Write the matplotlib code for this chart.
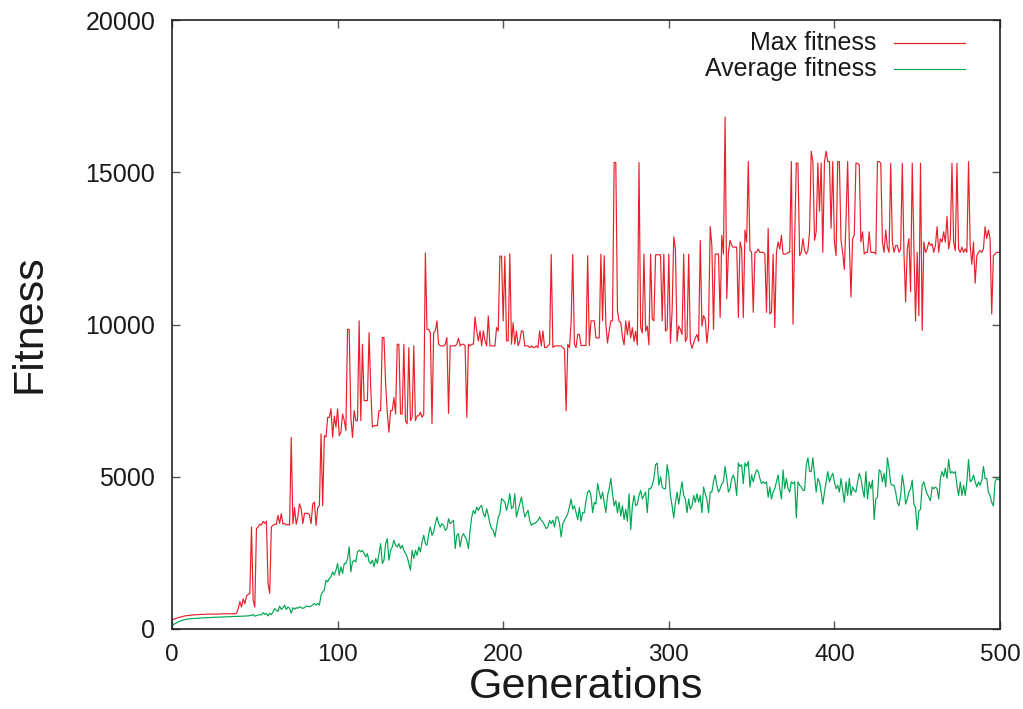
import numpy as np
import matplotlib
matplotlib.use("Agg")
import matplotlib.pyplot as plt

plt.rcParams["font.family"] = ["Liberation Sans", "DejaVu Sans"]

# ---- fitness per generation (generation 0 .. 500) ----
max_fit_000_076 = [
    300, 320, 340, 360, 380, 390, 400, 420, 430, 440,
    440, 450, 460, 460, 470, 470, 470, 480, 480, 480,
    480, 490, 490, 490, 490, 490, 490, 490, 490, 490,
    500, 500, 500, 500, 500, 500, 500, 500, 500, 520,
    680, 900, 720, 990, 830, 1090, 1140, 1160, 3350, 950,
    720, 3300, 3350, 3440, 3410, 3530, 3470, 3540, 1500, 1170,
    3350, 3410, 3440, 3440, 3730, 3470, 3790, 3440, 3470, 3410,
    3440, 3410, 6290, 3450, 3990, 3440, 3680,
]
max_fit_077_158 = [
    4110, 3950, 3460, 3800, 3800, 3800, 3750, 3460, 4110, 4170,
    3400, 3980, 4050, 6410, 4050, 6350, 6300, 6950, 6950, 7230,
    6300, 6990, 6630, 7230, 6350, 6460, 7060, 6850, 6520, 9840,
    9840, 6950, 6290, 7170, 6840, 6840, 10120, 6840, 9350, 7500,
    7500, 7500, 9730, 7930, 6630, 6680, 6680, 6680, 7170, 7170,
    9570, 9570, 8050, 7120, 6460, 7170, 7170, 7600, 7060, 9350,
    9350, 7060, 7060, 9350, 6840, 6740, 9240, 6840, 6950, 9300,
    6840, 7000, 7000, 7120, 6950, 7060, 12350, 9840, 9840, 9730,
    6740, 9730,
]
max_fit_159_245 = [
    9789, 10117, 9352, 9298, 9298, 9298, 9352, 9571, 7083, 9298,
    9298, 9298, 9298, 9352, 9549, 9298, 9352, 9352, 9298, 6952,
    9352, 9298, 9352, 9352, 10247, 9789, 9462, 9789, 9298, 9789,
    9462, 9298, 10280, 9298, 9298, 9298, 9298, 9898, 9789, 12245,
    12245, 10117, 12245, 9462, 9462, 12321, 9352, 10062, 9352, 9789,
    9298, 9462, 9789, 9789, 9298, 9298, 9298, 9243, 9298, 9243,
    9243, 9298, 9243, 9789, 9298, 9789, 9243, 9243, 9298, 9352,
    12300, 9243, 9298, 9298, 9298, 9298, 9298, 9243, 9189, 7170,
    9352, 9243, 10062, 12300, 9352, 9243, 9680,
]
max_fit_246_324 = [
    9670, 9310, 9310, 9310, 9310, 12260, 9310, 10120, 10120, 10120,
    9560, 9560, 9560, 12310, 10120, 12260, 10010, 9390, 9800, 10120,
    10120, 15320, 15320, 10460, 10100, 10064, 9600, 9330, 10120, 9670,
    10120, 9560, 9895, 9445, 9780, 9330, 15320, 9900, 9720, 12310,
    9780, 9950, 9330, 12310, 10176, 10120, 12290, 12290, 12290, 12290,
    10120, 12310, 9780, 9840, 12310, 9390, 10460, 12880, 12480, 9445,
    9950, 9840, 9670, 12310, 9445, 9560, 12310, 9445, 9220, 9390,
    9560, 9670, 9445, 12765, 9950, 10290, 10176, 9390, 9950,
]
max_fit_325_403 = [
    13214, 12595, 9840, 12314, 12314, 12314, 10230, 12930, 12314, 16810,
    10850, 12370, 12765, 12595, 12540, 12540, 12540, 10230, 12710, 12480,
    10230, 13100, 12710, 15350, 12430, 12370, 10400, 12370, 12370, 12480,
    12370, 12370, 12370, 12314, 10400, 13160, 10345, 10400, 12314, 9895,
    12370, 12710, 12480, 12930, 12314, 12314, 12314, 12370, 12370, 15350,
    10010, 12820, 15300, 15300, 12260, 12370, 12820, 12430, 12314, 12430,
    13045, 15690, 15350, 12765, 13045, 15300, 13720, 15300, 12370, 15350,
    15690, 15350, 15350, 13160, 15350, 12710, 12260, 15350, 15350,
]
max_fit_404_500 = [
    12764, 12370, 11808, 13383, 15351, 12708, 10908, 12820, 12933, 15295,
    15295, 15239, 12708, 13045, 12314, 12370, 12370, 13045, 12370, 12370,
    12370, 12314, 15351, 15351, 15295, 12708, 12370, 13101, 12539, 12370,
    15295, 12708, 12370, 12595, 12595, 12370, 12483, 15295, 12370, 10739,
    12483, 12820, 11076, 15295, 12595, 10120, 12370, 10289, 15295, 9805,
    12708, 12370, 12483, 12708, 12595, 12651, 12370, 12595, 13214, 12370,
    12820, 12708, 13045, 12708, 13551, 12483, 12820, 15295, 12708, 12426,
    15295, 12483, 12370, 12539, 12370, 12483, 12370, 15351, 12595, 11976,
    12708, 11358, 12258, 12370, 12426, 12370, 12483, 13214, 12820, 13101,
    12820, 10345, 12258, 12314, 12370, 12370, 12370,
]

avg_fit_000_076 = [
    100, 150, 180, 210, 240, 260, 280, 300, 310, 320,
    330, 335, 340, 345, 350, 350, 355, 360, 365, 365,
    370, 370, 375, 375, 380, 380, 385, 385, 390, 390,
    395, 395, 400, 400, 400, 405, 410, 410, 410, 415,
    415, 420, 420, 420, 425, 430, 430, 440, 450, 470,
    420, 440, 460, 470, 460, 540, 480, 510, 430, 520,
    470, 560, 670, 610, 580, 750, 640, 700, 780, 640,
    720, 680, 520, 700, 650, 700, 680,
]
avg_fit_077_164 = [
    731, 700, 677, 700, 753, 740, 731, 760, 786, 840,
    786, 840, 786, 1113, 1222, 1277, 1604, 1550, 1659, 1713,
    1877, 1768, 1932, 2150, 1768, 2041, 1822, 2150, 2150, 2314,
    2696, 1877, 2205, 2259, 2205, 2532, 2586, 2532, 2586, 2477,
    2368, 2477, 2205, 2150, 2259, 2041, 2314, 2150, 2477, 2805,
    2150, 2259, 2805, 2968, 2259, 2586, 2696, 2914, 2750, 2696,
    2805, 2641, 2750, 2586, 2477, 2368, 2150, 1932, 2586, 2314,
    2586, 2420, 2696, 2532, 2859, 3077, 2805, 2750, 3132, 3350,
    3077, 3187, 3460, 3678, 3460, 3350, 3460, 3405,
]
avg_fit_165_240 = [
    3241, 3296, 3623, 3460, 3514, 3569, 2641, 3077, 3132, 2696,
    3023, 3132, 3023, 2914, 2641, 3241, 3678, 3896, 3787, 4005,
    3896, 4005, 4060, 3787, 3678, 3950, 3732, 3460, 3296, 3241,
    3023, 3350, 3678, 3787, 4278, 4223, 4169, 3896, 4114, 4442,
    3950, 4005, 4442, 3678, 3896, 4114, 4332, 4005, 3678, 3787,
    3896, 3569, 3405, 3460, 3460, 3514, 3569, 3678, 3569, 3514,
    3405, 3296, 3350, 3569, 3460, 3569, 3350, 3678, 3678, 3460,
    3023, 3460, 3569, 3678, 3787, 4005,
]
avg_fit_241_321 = [
    4270, 3933, 4045, 3820, 3595, 3989, 3539, 3820, 3820, 4214,
    4495, 4551, 4383, 3820, 4158, 4101, 4776, 4495, 4270, 4495,
    4158, 3820, 4383, 4608, 4945, 4439, 4045, 4214, 3820, 4158,
    3708, 4045, 3595, 3933, 3539, 4439, 3258, 4045, 4383, 4045,
    4101, 4383, 4551, 4270, 4383, 4495, 3820, 4608, 4608, 4720,
    4945, 5395, 5451, 4720, 5001, 4664, 4608, 4608, 5395, 5058,
    4383, 4045, 3651, 4158, 4495, 4101, 4495, 4833, 4383, 4270,
    3820, 4270, 3933, 4045, 4383, 4158, 4439, 4158, 4383, 3820,
    4664,
]
avg_fit_322_403 = [
    4439, 4270, 3820, 4495, 4495, 4833, 5058, 4720, 4495, 4608,
    4776, 4833, 5339, 4945, 4495, 4608, 4945, 5058, 4833, 4383,
    5451, 5339, 5395, 4776, 5451, 5339, 5508, 4664, 5058, 4833,
    5058, 5226, 5170, 4945, 4776, 4833, 4776, 4833, 4326, 4664,
    4270, 4495, 4608, 4833, 5058, 4608, 4270, 5226, 4608, 4945,
    4608, 4495, 4833, 4776, 4833, 3651, 4833, 4720, 4664, 4551,
    4551, 5395, 5620, 5170, 5170, 5620, 5058, 4495, 4945, 4833,
    4495, 4101, 4495, 4833, 5170, 4833, 5001, 5114, 4833, 4608,
    4720, 4495,
]
avg_fit_404_500 = [
    4945, 4551, 4158, 4833, 4383, 4945, 4383, 4664, 4551, 4495,
    4833, 5114, 4945, 4608, 4326, 5170, 4270, 4833, 4608, 4889,
    3595, 4270, 4326, 5226, 5170, 4833, 5114, 4664, 5620, 5283,
    4776, 4720, 4720, 4495, 4158, 4045, 4383, 5058, 4720, 4101,
    4270, 4495, 4608, 4889, 4101, 3989, 3258, 3876, 3933, 4720,
    4833, 4608, 4439, 4326, 4214, 4664, 4608, 4664, 4608, 4270,
    4945, 5170, 5001, 5283, 4945, 5564, 5114, 5170, 5114, 5170,
    4720, 4383, 4833, 4383, 4720, 4383, 4833, 5564, 4833, 4889,
    5058, 4833, 4664, 4833, 4720, 4889, 5339, 4945, 4945, 4495,
    4383, 4158, 4045, 4833, 4945, 4900, 4945,
]

max_fitness = np.concatenate([max_fit_000_076, max_fit_077_158, max_fit_159_245,
                              max_fit_246_324, max_fit_325_403, max_fit_404_500])
avg_fitness = np.concatenate([avg_fit_000_076, avg_fit_077_164, avg_fit_165_240,
                              avg_fit_241_321, avg_fit_322_403, avg_fit_404_500])
generations = np.arange(len(max_fitness))

x_ticks = [0, 100, 200, 300, 400, 500]
y_ticks = [0, 5000, 10000, 15000, 20000]

RED = "#e8202a"
GREEN = "#00a651"

fig = plt.figure(figsize=(10.23, 7.09), dpi=100)
ax = fig.add_axes([172 / 1023, (709 - 629) / 709, 828 / 1023, 609 / 709])

ax.plot(generations, max_fitness, color=RED, lw=0.85, label="Max fitness")
ax.plot(generations[:len(avg_fitness)], avg_fitness, color=GREEN, lw=0.85,
        label="Average fitness")

ax.set_xlim(0, 500)
ax.set_ylim(0, 20000)
ax.set_xticks(x_ticks)
ax.set_yticks(y_ticks)
ax.tick_params(axis="both", direction="in", length=6, width=1.0, color="#555555",
               top=True, right=True, labelcolor="#1a1a1a")
ax.tick_params(axis="x", labelsize=17.5, pad=11)
ax.tick_params(axis="y", labelsize=18, pad=12)
for sp in ax.spines.values():
    sp.set_linewidth(1.2)
    sp.set_color("#222222")

# key in the upper right corner, text to the left of its line sample
for i, (lab, col) in enumerate([("Max fitness", RED), ("Average fitness", GREEN)]):
    yk = 0.962 - i * 0.043
    ax.text(0.851, yk, lab, transform=ax.transAxes, ha="right", va="center",
            fontsize=18, color="#1a1a1a")
    ax.plot([0.872, 0.958], [yk, yk], transform=ax.transAxes, color=col, lw=0.85,
            clip_on=False)

fig.text(586 / 1023, 1.5 / 709, "Generations", ha="center", va="bottom",
         fontsize=31, color="#1a1a1a")
fig.text(30 / 1023, (709 - 324) / 709, "Fitness", rotation=90, ha="center",
         va="center", fontsize=31, color="#1a1a1a")

fig.savefig("out.png", dpi=100)
